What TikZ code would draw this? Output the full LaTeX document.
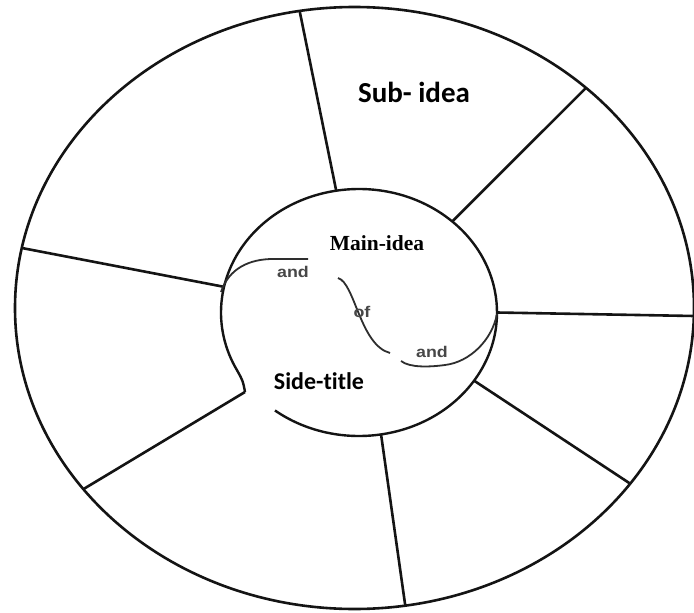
\documentclass[tikz,border=0pt]{standalone}
\usepackage{fontspec}
\usetikzlibrary{calc}
\setmainfont{Liberation Serif}
\newfontfamily\calfont[Ligatures=NoCommon]{Carlito}
\newfontfamily\arialfont{Liberation Sans}
\tikzset{
  rim/.style={line width=2.6pt, draw=black!92},
  spoke/.style={line width=2.6pt, draw=black!92},
  inner/.style={line width=2.4pt, draw=black!92},
  link/.style={line width=1.8pt, draw=black!82},
  bigtitle/.style={font=\calfont\bfseries\fontsize{29}{30}\selectfont, inner sep=0pt},
  sidetitle/.style={font=\calfont\bfseries\fontsize{24}{25}\selectfont, inner sep=0pt},
  maintitle/.style={font=\bfseries\fontsize{21.5}{22}\selectfont, inner sep=0pt},
  smalllabel/.style={font=\arialfont\bfseries\fontsize{15.5}{16}\selectfont, text=black!72, inner sep=0pt, xscale=1.15}
}
\begin{document}
\begin{tikzpicture}[x=1pt, y=-1pt]
\useasboundingbox (0,0) rectangle (694,613);
\fill[white] (0,0) rectangle (694,613);
\coordinate (oc) at (354.5,308);
\coordinate (ic) at (359,312.5);
% outer ring
\draw[rim] (oc) ellipse [x radius=339.5, y radius=301];
% inner outline with gap at lower left
\draw[inner, line join=round] (ic) ++(127.5:138 and 123.5) coordinate (gapR)
  arc[start angle=127.5, end angle=-208, x radius=138, y radius=123.5] coordinate (gapL)
  .. controls (243,381) .. (245,392) coordinate (kink);
% spokes
\coordinate (i1) at ($(ic)+(-99.5:138 and 123.5)$);
\coordinate (o1) at ($(oc)+(-99.3:339.5 and 301)$);
\coordinate (i2) at ($(ic)+(-47.5:138 and 123.5)$);
\coordinate (o2) at ($(oc)+(-47:339.5 and 301)$);
\coordinate (i3) at ($(ic)+(0:138 and 123.5)$);
\coordinate (o3) at (694,316);
\coordinate (i4) at ($(ic)+(33.5:138 and 123.5)$);
\coordinate (o4) at ($(oc)+(35.7:339.5 and 301)$);
\coordinate (i5) at ($(ic)+(80.8:138 and 123.5)$);
\coordinate (o5) at ($(oc)+(81.4:339.5 and 301)$);
\coordinate (o6) at ($(oc)+(143:339.5 and 301)$);
\coordinate (i7) at ($(ic)+(-168:138 and 123.5)$);
\coordinate (o7) at ($(oc)+(-168.5:339.5 and 301)$);
\draw[spoke] (i1) -- (o1);
\draw[spoke] (i2) -- (o2);
\draw[spoke] (i3) -- (o3);
\draw[spoke] (i4) -- (o4);
\draw[spoke] (i5) -- (o5);
\draw[spoke] (kink) -- (o6);
\draw[spoke] (i7) -- (o7);
% connector arcs
\coordinate (a1s) at (221,292);
\coordinate (a1e) at (308,259);
\draw[link] (a1s) .. controls (229,268) and (250,259) .. (273,259) -- (a1e);
\coordinate (ofs) at (338,278);
\coordinate (ofe) at (390,353);
\draw[link] (ofs) .. controls (355,283) and (360,345) .. (ofe);
\coordinate (a2s) at (401,361);
\coordinate (a2e) at (497,314);
\draw[link] (a2s) .. controls (410,368) and (430,367) .. (445,365)
  .. controls (470,362) and (492,340) .. (a2e);
% texts
\node[bigtitle] (sub) at (414,92) {Sub- idea};
\node[maintitle] (main) at (377,243) {Main-idea};
\node[sidetitle] (side) at (319,381) {Side-title};
\node[smalllabel] (and1) at (293,272) {and};
\node[smalllabel] (of) at (362,312) {of};
\node[smalllabel] (and2) at (432,352) {and};
\end{tikzpicture}
\end{document}
